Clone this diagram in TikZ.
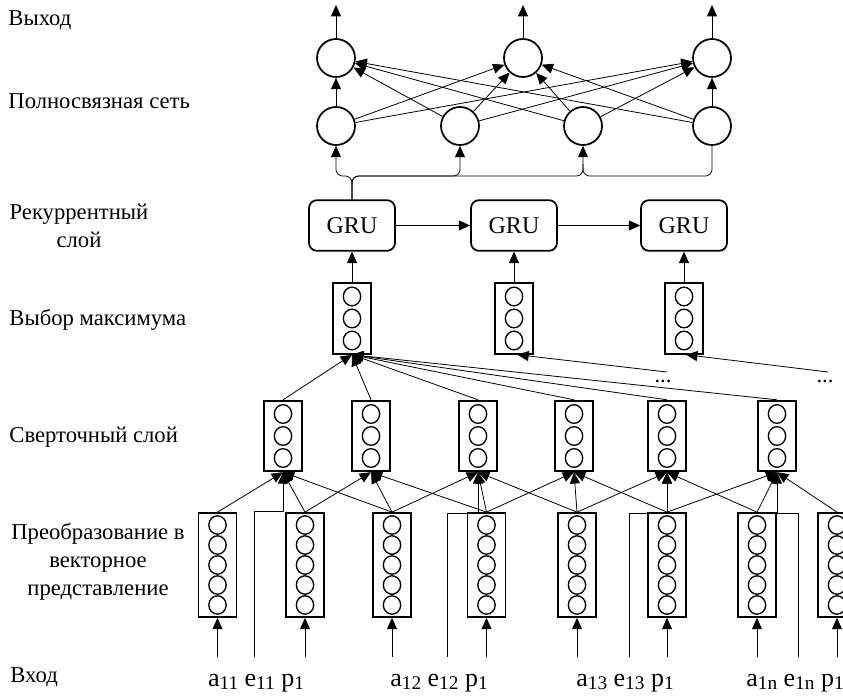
\documentclass[tikz,border=0pt]{standalone}
\usepackage{fontspec}
\setmainfont{Liberation Serif}
\usetikzlibrary{arrows.meta,calc}
\newcommand{\inidx}[1]{\raisebox{-0.3ex}{\fontsize{14.5}{15}\selectfont #1}}

\begin{document}
\begin{tikzpicture}[x=0.75pt,y=-0.75pt,
  font=\fontsize{17}{21}\selectfont,
  line width=0.6pt,
  arr/.style={-{Triangle[length=8.5pt,width=7.5pt]}},
  neu/.style={draw,circle,line width=1.3pt,minimum size=28.5pt,inner sep=0pt},
  gru/.style={draw,rounded corners=6pt,line width=1.3pt,minimum width=64.5pt,minimum height=38pt,font=\fontsize{18}{20}\selectfont},
  vec/.style={draw,line width=1.3pt,minimum width=28.5pt,inner sep=0pt},
  vec3/.style={vec,minimum height=53pt},
  vec5/.style={vec,minimum height=78pt},
  dot/.style={line width=1pt},
  lbl/.style={anchor=west,inner sep=0pt},
  inp/.style={font=\fontsize{19.5}{20}\selectfont}]
\useasboundingbox (0,0) rectangle (843,696);

% layer names
\node[lbl] (vyh) at (8,20) {Выход};
\node[lbl] (pol) at (8,101) {Полносвязная сеть};
\node[align=center] (rek) at (79,226) {Рекуррентный\\слой};
\node[lbl] (vmx) at (9,320) {Выбор максимума};
\node[lbl] (sve) at (9,437) {Сверточный слой};
\node[align=center] (pre) at (98,562) {Преобразование в\\векторное\\представление};
\node[lbl] (vho) at (10,677) {Вход};

% output and dense layer
\node[neu] (vy1) at (336,58) {};
\node[neu] (vy2) at (523,58) {};
\node[neu] (vy3) at (712,58) {};
\node[neu] (ps1) at (336,126) {};
\node[neu] (ps2) at (460,126) {};
\node[neu] (ps3) at (583,126) {};
\node[neu] (ps4) at (712,126) {};

% recurrent layer
\node[gru] (gr1) at (352,225.5) {GRU};
\node[gru] (gr2) at (514,225.5) {GRU};
\node[gru] (gr3) at (684,225.5) {GRU};

% max pooling
\node[vec3] (mx1) at (352,318.5) {};
\node[vec3] (mx2) at (514,318.5) {};
\node[vec3] (mx3) at (684,318.5) {};

% convolution
\node[vec3] (sv1) at (283,436) {};
\node[vec3] (sv2) at (371,436) {};
\node[vec3] (sv3) at (478,436) {};
\node[vec3] (sv4) at (574,436) {};
\node[vec3] (sv5) at (667,436) {};
\node[vec3] (sv6) at (777,436) {};

% embeddings
\node[vec5] (vk1) at (217.5,565) {};
\node[vec5] (vk2) at (305,565) {};
\node[vec5] (vk3) at (392,565) {};
\node[vec5] (vk4) at (486.5,565) {};
\node[vec5] (vk5) at (577,565) {};
\node[vec5] (vk6) at (667,565) {};
\node[vec5] (vk7) at (757,565) {};
\node[vec5] (vk8) at (837,565) {};

% units inside the vectors
\foreach \i in {1,2,3}
  \foreach \d in {-22,0,22}
    \draw[dot] ($(mx\i)+(0,\d)$) ellipse [x radius=6.5pt,y radius=7pt];
\foreach \i in {1,...,6}
  \foreach \d in {-22,0,22}
    \draw[dot] ($(sv\i)+(0,\d)$) ellipse [x radius=6.5pt,y radius=7pt];
\foreach \i in {1,...,8}
  \foreach \d in {-40,-20,0,20,40}
    \draw[dot] ($(vk\i)+(0,\d)$) ellipse [x radius=6.5pt,y radius=6.9pt];

% inputs
\coordinate (bot) at (0,657);
\coordinate (top) at (0,5);
\foreach \i in {1,...,8} {
  \coordinate (in\i) at (vk\i.south |- bot);
  \draw[arr] (in\i) -- (vk\i.south);
}
\node[inp] (vx1) at (256,683) {a\inidx{11} e\inidx{11} p\inidx{1}};
\node[inp] (vx2) at (439,683) {a\inidx{12} e\inidx{12} p\inidx{1}};
\node[inp] (vx3) at (625,683) {a\inidx{13} e\inidx{13} p\inidx{1}};
\node[inp] (vx4) at (795,683) {a\inidx{1n} e\inidx{1n} p\inidx{1}};

% e-inputs go straight to the convolution
\coordinate (e1) at (254,657);
\coordinate (e2) at (447,657);
\coordinate (e3) at (629,657);
\coordinate (e4) at (798,657);
\draw[arr] (e1) |- (283,511) -- (sv1.south);
\draw[arr] (e2) |- (478,513) -- (sv3.south);
\draw[arr] (e3) |- (667,513) -- (sv5.south);
\draw[arr] (e4) |- (777,513) -- (sv6.south);

% window of three vectors per filter
\foreach \s in {1,...,6}
  \foreach \d in {0,1,2} {
    \pgfmathtruncatemacro\v{\s+\d}
    \draw[arr] (vk\v.north) -- (sv\s.south);
  }

% convolution -> pooling
\foreach \s in {1,...,6}
  \draw[arr] (sv\s.north) -- (mx1.south);
\node (dt1) at (663,381) {...};
\node (dt2) at (825,381) {...};
\coordinate (ln1) at (667,372);
\coordinate (ln2) at (828,372);
\draw[arr] (ln1) -- ([xshift=2.5pt]mx2.south);
\draw[arr] (ln2) -- ([xshift=1.5pt]mx3.south);

% pooling -> GRU
\draw[arr] (mx1) -- (gr1);
\draw[arr] (mx2) -- (gr2);
\draw[arr] (mx3) -- (gr3);
\draw[arr] (gr1) -- (gr2);
\draw[arr] (gr2) -- (gr3);

% GRU -> dense layer
\coordinate (bus) at (352,176);
\draw[arr,rounded corners=5pt] (gr1.north) -- (bus) -| (ps1.south);
\draw[arr,rounded corners=5pt] (gr1.north) -- (bus) -| (ps2.south);
\draw[arr,rounded corners=5pt] (gr1.north) -- (bus) -| (ps3.south);
\draw[rounded corners=5pt] (ps4.south) |- (ps3.south |- bus) -- ++(0,-12);

% dense -> output
\foreach \i in {1,...,4}
  \foreach \j in {1,2,3}
    \draw[arr] (ps\i) -- (vy\j);
\foreach \j in {1,2,3} {
  \coordinate (ot\j) at (vy\j |- top);
  \draw[arr] (vy\j) -- (ot\j);
}
\end{tikzpicture}
\end{document}
